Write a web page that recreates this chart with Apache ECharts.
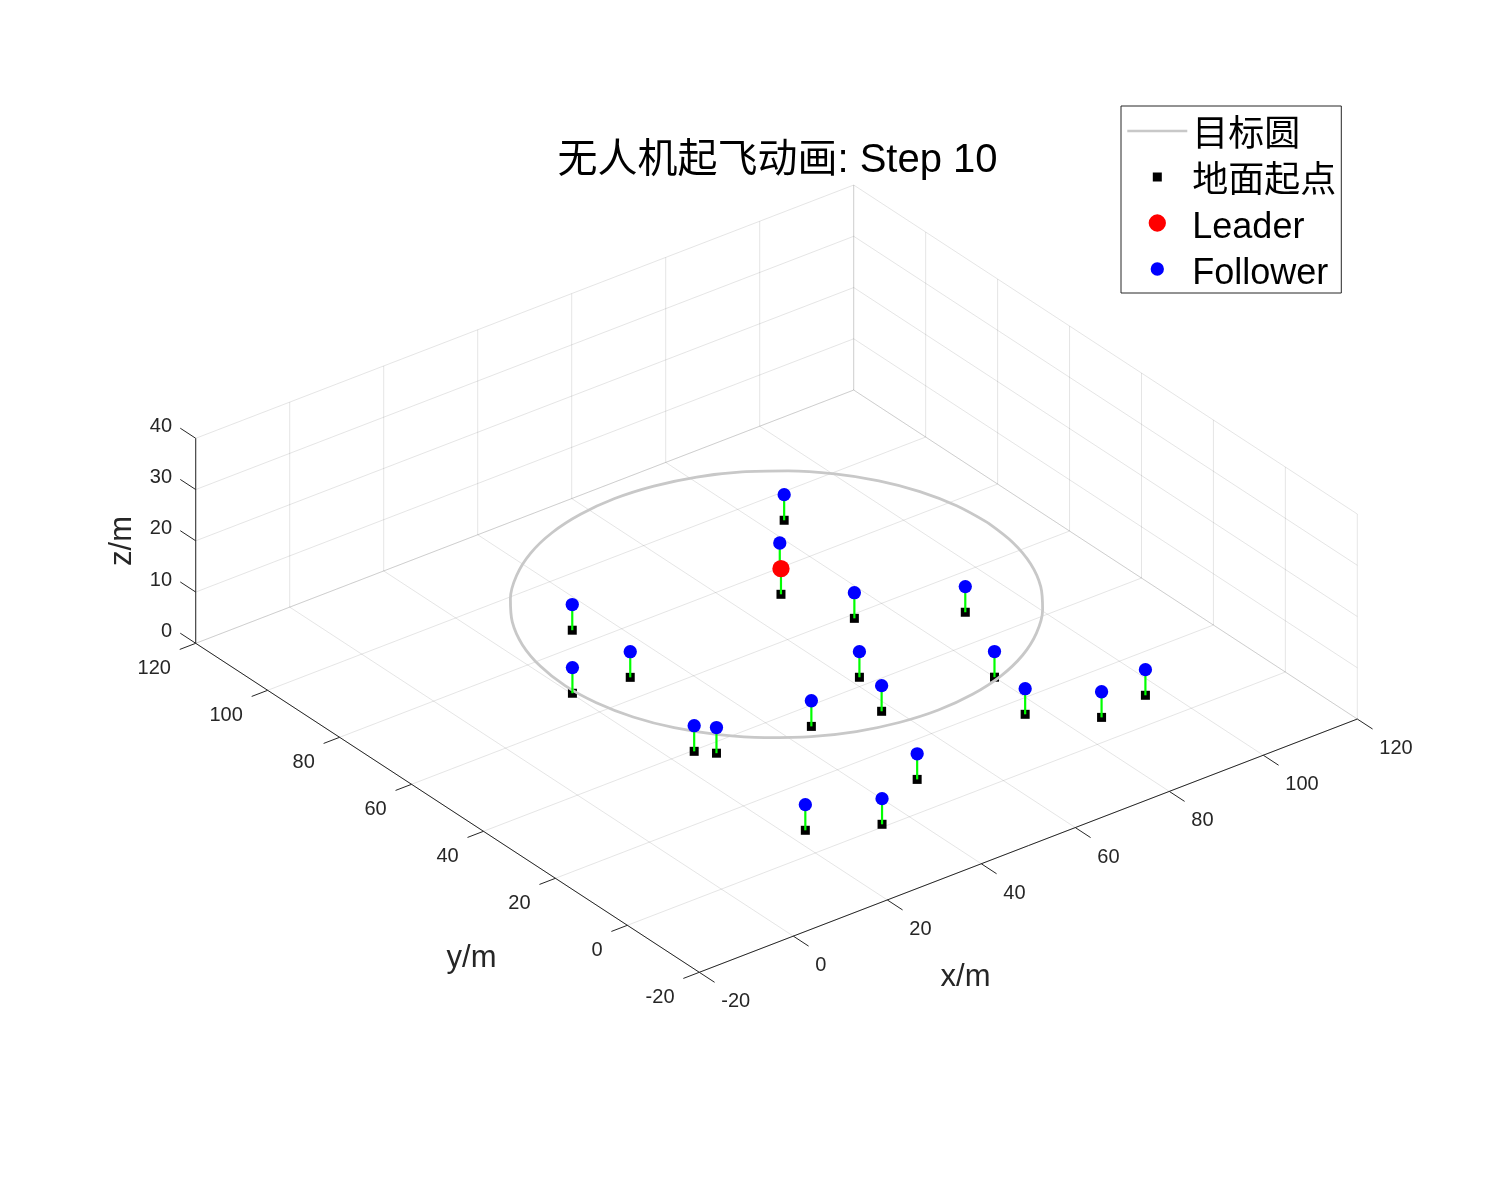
<!DOCTYPE html>
<html>
<head>
<meta charset="utf-8">
<title>无人机起飞动画</title>
<script src="https://cdn.jsdelivr.net/npm/echarts@6/dist/echarts.min.js"></script>
<style>html,body{margin:0;padding:0;background:#fff}#chart{width:1500px;height:1200px}</style>
</head>
<body>
<div id="chart"></div>
<script>
// ---- values (metres) ----
const titleText = '无人机起飞动画: Step 10';
const xTicks = [-20, 0, 20, 40, 60, 80, 100, 120];
const yTicks = [-20, 0, 20, 40, 60, 80, 100, 120];
const zTicks = [0, 10, 20, 30, 40];
const legendNames = ['目标圆', '地面起点', 'Leader', 'Follower'];

// Follower ground start points
const followerX = [84.0, 73.5, 73.3, 89.4, 33.1, 20.2, 31.2, 24.6, 27.2, 61.9, 57.9, 45.4, 80.0, 76.5, 48.7, 34.8, 23.3, 86.1, 96.5];
const followerY = [92.3, 79.8, 58.8, 49.0, 84.7, 67.8, 66.1, 39.7, 36.9, 42.5, 31.1, 34.3, 28.6, 15.5, 9.2, 0.8, 7.1, 6.8, 8.2];
const followerZ = [5, 5, 5, 5, 5, 5, 5, 5, 5, 5, 5, 5, 5, 5, 5, 5, 5, 5, 5];
// Leader
const leaderX = [68.4];
const leaderY = [72.8];
const leaderZ = [5];
// Target circle at height 15
const circleX = [95, 94.3, 92.3, 89, 84.5, 78.9, 72.5, 65.4, 57.8, 50, 42.2, 34.6, 27.5, 21.1, 15.5, 11, 7.7, 5.7, 5, 5.7, 7.7, 11, 15.5, 21.1, 27.5, 34.6, 42.2, 50, 57.8, 65.4, 72.5, 78.9, 84.5, 89, 92.3, 94.3, 95];
const circleY = [50, 57.8, 65.4, 72.5, 78.9, 84.5, 89, 92.3, 94.3, 95, 94.3, 92.3, 89, 84.5, 78.9, 72.5, 65.4, 57.8, 50, 42.2, 34.6, 27.5, 21.1, 15.5, 11, 7.7, 5.7, 5, 5.7, 7.7, 11, 15.5, 21.1, 27.5, 34.6, 42.2, 50];
const circleZ = [15, 15, 15, 15, 15, 15, 15, 15, 15, 15, 15, 15, 15, 15, 15, 15, 15, 15, 15, 15, 15, 15, 15, 15, 15, 15, 15, 15, 15, 15, 15, 15, 15, 15, 15, 15, 15];

// ---- orthographic view of the 3D box onto a flat value-axis plane ----
const VIEW = { ox: 699.3, oy: 972.3, xx: 4.7, xy: -1.809, yx: -3.597, yy: -2.35, zy: -5.125, x0: -20, y0: -20 };
function project(x, y, z) {
  const X = x - VIEW.x0, Y = y - VIEW.y0;
  return [VIEW.ox + VIEW.xx * X + VIEW.yx * Y, VIEW.oy + VIEW.xy * X + VIEW.yy * Y + VIEW.zy * z];
}
const xMin = xTicks[0], xMax = xTicks[xTicks.length - 1];
const yMin = yTicks[0], yMax = yTicks[yTicks.length - 1];
const zMin = zTicks[0], zMax = zTicks[zTicks.length - 1];
const seg = (a, b) => project(a[0], a[1], a[2]).concat(project(b[0], b[1], b[2]));

// grid lines on floor and both back walls
const gridSegs = [];
xTicks.forEach(t => {
  gridSegs.push(seg([t, yMin, zMin], [t, yMax, zMin]));
  gridSegs.push(seg([t, yMax, zMin], [t, yMax, zMax]));
});
yTicks.forEach(t => {
  gridSegs.push(seg([xMin, t, zMin], [xMax, t, zMin]));
  gridSegs.push(seg([xMax, t, zMin], [xMax, t, zMax]));
});
zTicks.forEach(t => {
  gridSegs.push(seg([xMin, yMax, t], [xMax, yMax, t]));
  gridSegs.push(seg([xMax, yMin, t], [xMax, yMax, t]));
});

// axis lines and ticks
const TICK_X = 4.25, TICK_Y = 3.4, TICK_Z = 4.3;
const axisSegs = [
  seg([xMin, yMin, zMin], [xMax, yMin, zMin]),
  seg([xMin, yMin, zMin], [xMin, yMax, zMin]),
  seg([xMin, yMax, zMin], [xMin, yMax, zMax])
];
xTicks.forEach(t => axisSegs.push(seg([t, yMin, zMin], [t, yMin - TICK_X, zMin])));
yTicks.forEach(t => axisSegs.push(seg([xMin, t, zMin], [xMin - TICK_Y, t, zMin])));
zTicks.forEach(t => axisSegs.push(seg([xMin, yMax, t], [xMin, yMax + TICK_Z, t])));

// tick labels
const tickLabels = [];
xTicks.forEach(t => { const p = project(t, yMin, zMin); tickLabels.push({ p, text: String(t), dx: 22, dy: 29.5, align: 'left' }); });
yTicks.forEach(t => { const p = project(xMin, t, zMin); tickLabels.push({ p, text: String(t), dx: -24.8, dy: 25, align: 'right' }); });
zTicks.forEach(t => { const p = project(xMin, yMax, t); tickLabels.push({ p, text: String(t), dx: -23.7, dy: -12, align: 'right' }); });

const FONT = '"Liberation Sans","Noto Sans CJK SC",sans-serif';

function segSeries(name, segs, color, width, z) {
  return {
    type: 'custom', name, coordinateSystem: 'cartesian2d', silent: true, z, clip: false,
    data: segs,
    encode: { x: [0, 2], y: [1, 3] },
    renderItem: (params, api) => {
      const a = api.coord([api.value(0), api.value(1)]);
      const b = api.coord([api.value(2), api.value(3)]);
      return { type: 'line', shape: { x1: a[0], y1: a[1], x2: b[0], y2: b[1] }, style: { stroke: color, lineWidth: width, fill: null } };
    }
  };
}

const groundPts = followerX.map((x, i) => project(x, followerY[i], 0)).concat(leaderX.map((x, i) => project(x, leaderY[i], 0)));
const followerPts = followerX.map((x, i) => project(x, followerY[i], followerZ[i]));
const leaderPts = leaderX.map((x, i) => project(x, leaderY[i], leaderZ[i]));
const circlePts = circleX.map((x, i) => project(x, circleY[i], circleZ[i]));
const stemSegs = followerX.map((x, i) => seg([x, followerY[i], 0], [x, followerY[i], followerZ[i]]))
  .concat(leaderX.map((x, i) => seg([x, leaderY[i], 0], [x, leaderY[i], leaderZ[i]])));

// legend icons: a 60 x 45.7 box (the two empty strokes pin its extent) holding the real mark
const BOX = 'M0 0L0 0M60 45.7L60 45.7';
const disc = r => `M${30 - r} 22.85a${r} ${r} 0 1 0 ${2 * r} 0a${r} ${r} 0 1 0 ${-2 * r} 0z`;
const legendIcons = [
  'path://' + BOX + 'M0 21.5H60V24.2H0Z',
  'path://' + BOX + 'M25.5 18.35h9v9h-9z',
  'path://' + BOX + disc(8.65),
  'path://' + BOX + disc(6.65)
];

const option = {
  backgroundColor: '#fff',
  animation: false,
  grid: { left: 0, right: 0, top: 0, bottom: 0, containLabel: false },
  xAxis: { type: 'value', min: 0, max: 1500, show: false },
  yAxis: { type: 'value', min: 0, max: 1200, inverse: true, show: false },
  title: {
    text: titleText, left: 772.5, top: 136, textAlign: 'center',
    textStyle: { fontFamily: FONT, fontSize: 40, fontWeight: 'normal', color: '#000' }
  },
  legend: {
    left: 1121, top: 106, orient: 'vertical', selectedMode: false,
    padding: [2, 5, 1, 6.3], itemGap: 0, itemWidth: 60, itemHeight: 45.7,
    borderColor: '#262626', borderWidth: 1, backgroundColor: '#fff',
    formatter: name => `{t|${name}}`,
    textStyle: {
      fontFamily: FONT, fontSize: 36, color: '#000',
      rich: { t: { fontFamily: FONT, fontSize: 36, color: '#000', lineHeight: 32, padding: [10, 0, 0, 0] } }
    },
    data: legendNames.map((n, i) => ({ name: n, icon: legendIcons[i] }))
  },
  graphic: [
    { type: 'text', x: 965.5, y: 977, silent: true, style: { text: 'x/m', font: '31px ' + FONT, fill: '#262626', align: 'center', verticalAlign: 'middle' } },
    { type: 'text', x: 471.5, y: 958, silent: true, style: { text: 'y/m', font: '31px ' + FONT, fill: '#262626', align: 'center', verticalAlign: 'middle' } },
    { type: 'text', x: 122.5, y: 541, rotation: Math.PI / 2, silent: true, style: { text: 'z/m', font: '31px ' + FONT, fill: '#262626', align: 'center', verticalAlign: 'middle' } }
  ],
  series: [
    segSeries('grid', gridSegs, 'rgba(38,38,38,0.12)', 1, 1),
    segSeries('axes', axisSegs, '#262626', 1, 2),
    {
      type: 'custom', name: 'tickLabels', coordinateSystem: 'cartesian2d', silent: true, z: 2, clip: false,
      data: tickLabels.map(l => l.p),
      renderItem: (params, api) => {
        const l = tickLabels[params.dataIndex];
        const c = api.coord([api.value(0), api.value(1)]);
        return { type: 'text', x: c[0] + l.dx, y: c[1] + l.dy,
          style: { text: l.text, font: '20px ' + FONT, fill: '#262626', align: l.align, verticalAlign: 'middle' } };
      }
    },
    {
      type: 'scatter', name: legendNames[1], data: groundPts, symbol: 'rect', symbolSize: 9, z: 3, silent: true,
      itemStyle: { color: '#000', opacity: 1 }
    },
    {
      type: 'line', name: legendNames[0], data: circlePts, symbol: 'none', smooth: 0.33, z: 4, silent: true,
      lineStyle: { color: '#c8c8c8', width: 2.8 }, itemStyle: { color: '#c8c8c8', opacity: 1 }
    },
    segSeries('stems', stemSegs, '#00ff00', 2.2, 5),
    {
      type: 'scatter', name: legendNames[3], data: followerPts, symbol: 'circle', symbolSize: 13.3, z: 6, silent: true,
      itemStyle: { color: '#0000ff', opacity: 1 }
    },
    {
      type: 'scatter', name: legendNames[2], data: leaderPts, symbol: 'circle', symbolSize: 17.3, z: 7, silent: true,
      itemStyle: { color: '#ff0000', opacity: 1 }
    }
  ]
};
const chart = echarts.init(document.getElementById('chart'), null, { renderer: 'canvas', width: 1500, height: 1200 });
chart.setOption(option);
</script>
</body>
</html>
